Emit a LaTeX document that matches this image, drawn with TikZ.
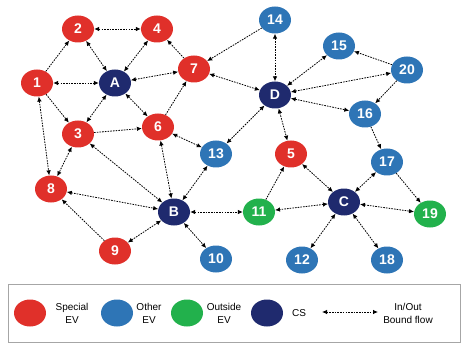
\documentclass[tikz,border=0pt]{standalone}
\usepackage{fontspec}
\setmainfont{Liberation Sans}
\usetikzlibrary{shapes.geometric,arrows.meta}

\definecolor{evred}{HTML}{E0302A}
\definecolor{evblue}{HTML}{2E75B6}
\definecolor{evgreen}{HTML}{22B14C}
\definecolor{csnavy}{HTML}{1F2A6E}

\begin{document}
\begin{tikzpicture}[x=1pt,y=-1pt,
  ev/.style={ellipse,minimum width=32pt,minimum height=27pt,inner sep=0pt,
    text=white,font=\fontsize{14}{14}\selectfont\bfseries},
  special/.style={ev,fill=evred},
  other/.style={ev,fill=evblue},
  outside/.style={ev,fill=evgreen},
  cs/.style={ev,fill=csnavy},
  flow/.style={line width=0.8pt,dash pattern=on 1.6pt off 1.1pt,
    arrows={-Latex[length=5pt,width=4.5pt]}},
  both/.style={flow,arrows={Latex[length=5pt,width=4.5pt]-Latex[length=5pt,width=4.5pt]}},
  legtext/.style={align=center,font=\fontsize{10}{13}\selectfont}]

\useasboundingbox (0,0) rectangle (462,347);

% nodes
\node[special] (1) at (37,83) {1};
\node[special] (2) at (78,29) {2};
\node[special] (4) at (157,29) {4};
\node[cs] (A) at (115,83) {A};
\node[special] (7) at (194,69) {7};
\node[special] (3) at (78,134) {3};
\node[special] (6) at (158,127) {6};
\node[other] (13) at (216,154) {13};
\node[special] (8) at (51,189) {8};
\node[cs] (B) at (174,212) {B};
\node[special] (9) at (115,251) {9};
\node[other] (10) at (216,259) {10};
\node[other] (14) at (275,20) {14};
\node[other] (15) at (339,46) {15};
\node[other] (20) at (407,70) {20};
\node[cs] (D) at (275,95) {D};
\node[other] (16) at (365,114) {16};
\node[special] (5) at (291,154) {5};
\node[other] (17) at (387,162) {17};
\node[cs] (C) at (344,202) {C};
\node[outside] (11) at (259,212) {11};
\node[outside] (19) at (430,214) {19};
\node[other] (12) at (302,260) {12};
\node[other] (18) at (387,260) {18};

% flows
\draw[flow] (1) -- (2);
\draw[both] (2) -- (4);
\draw[both] (2) -- (A);
\draw[both] (4) -- (A);
\draw[both] (1) -- (A);
\draw[both] (A) -- (7);
\draw[flow] (7) -- (4);
\draw[flow] (14) -- (7);
\draw[both] (7) -- (D);
\draw[both] (A) -- (3);
\draw[flow] (1) -- (3);
\draw[both] (A) -- (6);
\draw[flow] (3) -- (6);
\draw[flow] (6) -- (7);
\draw[both] (6) -- (13);
\draw[both] (1) -- (8);
\draw[both] (3) -- (8);
\draw[both] (3) -- (B);
\draw[both] (6) -- (B);
\draw[both] (13) -- (B);
\draw[both] (8) -- (B);
\draw[flow] (9) -- (8);
\draw[both] (9) -- (B);
\draw[both] (B) -- (10);
\draw[both] (B) -- (11);
\draw[both] (14) -- (D);
\draw[both] (D) -- (15);
\draw[both] (D) -- (20);
\draw[flow] (20) -- (15);
\draw[flow] (20) -- (16);
\draw[both] (D) -- (16);
\draw[both] (D) -- (13);
\draw[both] (D) -- (5);
\draw[flow] (16) -- (17);
\draw[flow] (11) -- (5);
\draw[both] (5) -- (C);
\draw[both] (17) -- (C);
\draw[flow] (17) -- (19);
\draw[both] (C) -- (19);
\draw[both] (C) -- (11);
\draw[both] (C) -- (12);
\draw[both] (C) -- (18);

% legend
\draw[black!35,line width=0.8pt] (8,284) rectangle (460,342);
\node[special] (lspecial) at (30,313) {};
\node[legtext] (tspecial) at (72,313) {Special\\EV};
\node[other] (lother) at (117,313) {};
\node[legtext] (tother) at (149,313) {Other\\EV};
\node[outside] (loutside) at (187,313) {};
\node[legtext] (toutside) at (224,313) {Outside\\EV};
\node[cs] (lcs) at (267,313) {};
\node[legtext] (tcs) at (299,313) {CS};
\coordinate (lflowa) at (322,312);
\coordinate (lflowb) at (378,312);
\draw[both] (lflowa) -- (lflowb);
\node[legtext] (tflow) at (408,313) {In/Out\\Bound flow};

\end{tikzpicture}
\end{document}
